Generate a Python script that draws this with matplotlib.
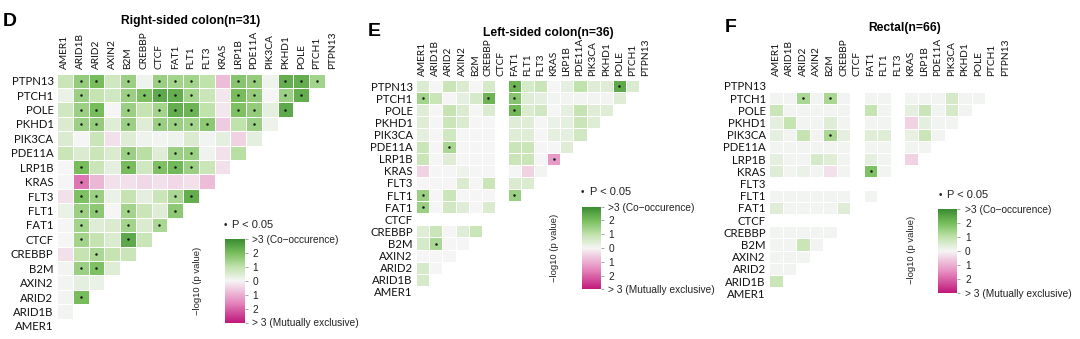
import numpy as np
import matplotlib
matplotlib.use('Agg')
import matplotlib.pyplot as plt
from matplotlib.colors import LinearSegmentedColormap, Normalize
from matplotlib.cm import ScalarMappable

W, H = 1080, 339

genes = ['AMER1', 'ARID1B', 'ARID2', 'AXIN2', 'B2M', 'CREBBP', 'CTCF', 'FAT1',
         'FLT1', 'FLT3', 'KRAS', 'LRP1B', 'PDE11A', 'PIK3CA', 'PKHD1', 'POLE',
         'PTCH1', 'PTPN13']
row_genes = genes[::-1]

titles = ['Right-sided colon(n=31)', 'Left-sided colon(n=36)', 'Rectal(n=66)']
letters = ['D', 'E', 'F']

N = None
# -log10(p), signed: + co-occurence, - mutually exclusive. rows top->bottom
right_vals = [
    [0.8, 1.6, 2.0, 0.7, 1.5, 0.1, 1.5, 1.4, 1.4, 1.0, -0.8, 1.8, 1.6, 0.1, 2.3, 2.3, 1.4],
    [0.2, 1.5, 0.9, 0.7, 1.5, 1.9, 2.4, 2.3, 1.4, 0.8, -0.2, 2.0, 1.6, 0.0, 1.5, 2.3],
    [0.7, 1.5, 2.0, 0.0, 1.5, 0.9, 1.4, 2.3, 2.2, 1.0, -0.2, 1.9, 1.6, 0.3, 2.4],
    [0.5, 1.5, 1.6, 0.4, 1.5, 0.4, 1.5, 1.5, 1.4, 1.7, -0.6, 1.0, 1.5, 0.15],
    [0.5, 0.0, 0.8, -0.3, 0.4, 0.1, 0.05, 0.1, 0.5, 0.05, 0.3, -0.5, 0.3],
    [0.8, 0.5, 0.8, 0.5, 1.5, 1.1, 0.4, 1.5, 1.5, 0.1, -0.3, 1.1],
    [0.0, 2.0, 0.8, 0.3, 2.0, 0.7, 1.9, 2.1, 1.5, 0.8, -0.3],
    [0.0, -1.8, -0.9, -0.3, -0.3, -0.4, -0.3, -0.4, -0.3, -0.8],
    [-0.3, 1.9, 1.5, 0.2, 0.9, 0.3, 0.8, 1.3, 2.3],
    [0.2, 1.5, 1.7, 0.0, 1.4, 0.8, 0.4, 1.7],
    [0.0, 1.4, 0.4, 0.5, 1.4, 0.5, 1.3],
    [0.0, 1.4, 0.9, 0.5, 2.4, 0.8],
    [-0.3, 0.9, 1.3, 0.9, 0.8],
    [0.05, 1.5, 1.9, 0.4],
    [0.05, 0.3, 0.2],
    [0.05, 2.0],
    [0.05],
    [],
]
right_sig = ['01101011100110111', '0100111110011011', '011010111001101',
             '01101011110010', '0000000000000', '000010011000', '01001011100',
             '0100000000', '011000011', '01101001', '0100101', '010010',
             '00100', '0110', '000', '01', '0', '']

left_vals = [
    [0.5, 0.0, 0.8, 0.5, 0.0, 0.6, N, 2.2, 0.6, 0.8, 0.0, 0.3, 1.0, 0.4, 0.4, 2.4, 0.5],
    [1.4, 0.8, 0.0, 0.3, 0.6, 2.2, N, 1.8, 0.4, 0.3, 0.05, 0.05, 0.05, 0.05, 0.05, 0.4],
    [0.4, 0.0, 0.9, 0.5, 0.0, 0.5, N, 2.1, 0.5, 0.7, 0.0, 0.3, 0.9, 0.4, 0.4],
    [0.4, 0.0, 0.8, 0.5, 0.0, 0.0, N, 0.4, 0.4, 0.0, 0.2, 0.3, 0.8, 0.4],
    [0.3, 0.0, 0.7, 0.0, 0.0, 0.0, N, 0.4, 0.4, 0.0, 0.3, 0.3, 0.7],
    [0.8, 0.0, 1.3, 0.0, 0.0, 0.0, N, 0.8, 0.8, 0.0, 0.0, 0.4],
    [0.8, 0.0, 0.4, 0.0, 0.0, 0.0, N, 0.8, 0.8, 0.0, -1.3],
    [-0.5, 0.0, 0.0, 0.15, 0.0, 0.0, N, 0.0, -0.5, 0.05],
    [0.0, 0.0, 0.0, 0.5, 0.0, 0.8, N, 0.5, 0.5],
    [1.5, 0.0, 0.8, 0.0, 0.0, 0.0, N, 1.5],
    [1.5, 0.0, 0.7, 0.4, 0.0, 0.5, N],
    [N, N, N, N, N, N],
    [0.4, 0.8, 0.0, 0.4, 0.8],
    [0.6, 1.3, 0.0, 0.0],
    [0.0, 0.0, 0.0],
    [0.6, 0.0],
    [0.6],
    [],
]
left_sig = ['00000001000000010', '1000010100000000', '000000010000000',
            '', '', '001000000000', '00000000001', '', '', '10000001',
            '1000000', '', '', '0100', '', '', '', '']

rectal_vals = [
    [N] * 17,
    [0.05, 0.05, 1.3, 0.05, 1.3, 0.05, N, 0.05, 0.05, N, 0.05, 0.05, 0.05, 0.6, 0.05, 0.05],
    [0.8, 0.05, 0.05, 0.05, 0.05, 0.05, N, 0.9, 0.05, N, 0.3, 0.8, 0.05, 0.6, 0.05],
    [0.3, 0.9, 0.05, 0.05, 0.4, 0.05, N, 0.05, 0.05, N, -0.5, 0.3, 0.05, 0.05],
    [0.3, 0.05, 0.9, 0.05, 1.3, 0.3, N, 0.4, 0.4, N, 0.25, 0.8, 0.05],
    [0.05, 0.05, 0.05, 0.05, 0.05, 0.05, N, 0.05, 0.05, N, 0.05, 0.05],
    [0.3, 0.05, 0.05, 0.6, 0.4, 0.05, N, 0.3, 0.05, N, -0.5],
    [0.4, 0.05, 0.2, 0.05, -0.3, 0.05, N, 1.9, 0.05, N],
    [N] * 9,
    [0.05, 0.05, 0.05, 0.05, 0.05, 0.05, N, 0.05],
    [0.4, 0.05, 0.05, 0.05, 0.05, 0.4, N],
    [N] * 6,
    [0.05, 0.05, 0.05, 0.05, 0.05],
    [0.05, 0.05, 0.8, 0.05],
    [0.05, 0.05, 0.05],
    [0.05, 0.05],
    [0.8],
    [],
]
rectal_sig = ['', '0010100000000000', '', '', '0000100000000', '', '',
              '0000000100', '', '', '', '', '', '', '', '', '', '']

cb_ticks = [3, 2, 1, 0, -1, -2, -3]
cb_labels = ['>3 (Co\u2212occurence)', '2', '1', '0', '1', '2',
             '> 3 (Mutually exclusive)']

cmap = LinearSegmentedColormap.from_list('coocc', [
    (0.0, '#c0197a'), (0.25, '#e68cc0'), (0.5, '#f5f5f5'),
    (0.667, '#c0e2ab'), (0.833, '#78be5d'), (1.0, '#3a8c32')])
norm = Normalize(-3, 3)

# pixel boxes (x0, y0, x1, y1)
layout = [
    dict(heat=(57, 73.5, 340.6, 333.2), cbar=(225, 239, 244.5, 322.5),
         sig=(225, 225), ylab=(198, 281), title=(190.5, 21), letter=(10, 21)),
    dict(heat=(416.2, 80, 652, 298), cbar=(582, 206.7, 600.5, 289.3),
         sig=(582.7, 192.3), ylab=(554.3, 248.3), title=(548, 32.7), letter=(374, 31)),
    dict(heat=(769.3, 79.9, 1012.3, 299.4), cbar=(938.3, 209.3, 957.3, 292.7),
         sig=(940, 195), ylab=(911.7, 250), title=(905, 28), letter=(731, 28)),
]


def rect(b):
    x0, y0, x1, y1 = b
    return [x0 / W, 1 - y1 / H, (x1 - x0) / W, (y1 - y0) / H]


def to_matrix(vals):
    m = np.full((18, 18), np.nan)
    for r, row in enumerate(vals):
        for c, v in enumerate(row):
            if v is not None:
                m[r, c] = v
    return m


fig = plt.figure(figsize=(W / 100, H / 100), dpi=100)
fig.patch.set_facecolor('white')

panels = [(right_vals, right_sig), (left_vals, left_sig), (rectal_vals, rectal_sig)]
for i, (vals, sig) in enumerate(panels):
    L = layout[i]
    ax = fig.add_axes(rect(L['heat']))
    m = np.ma.masked_invalid(to_matrix(vals))
    ax.pcolormesh(np.arange(19), np.arange(19), m, cmap=cmap, norm=norm,
                  edgecolors='white', linewidth=0.6)
    rr, cc = [], []
    for r, s in enumerate(sig):
        for c, ch in enumerate(s):
            if ch == '1':
                rr.append(r + 0.5)
                cc.append(c + 0.5)
    ax.scatter(cc, rr, s=3.2, color='#111111', lw=0, zorder=3)
    ax.set_xlim(0, 18)
    ax.set_ylim(18, 0)
    ax.set_xticks(np.arange(18) + 0.5)
    ax.set_xticklabels(genes, rotation=90, family='Lato', fontsize=7.3,
                       color='#111111')
    ax.set_yticks(np.arange(18) + 0.5)
    ax.set_yticklabels(row_genes, family='Lato', fontsize=8.2, color='#111111')
    ax.xaxis.tick_top()
    ax.tick_params(length=0, pad=2.5)
    ax.tick_params(axis='x', pad=3)
    for sp in ax.spines.values():
        sp.set_visible(False)

    cax = fig.add_axes(rect(L['cbar']))
    cb = fig.colorbar(ScalarMappable(norm=norm, cmap=cmap), cax=cax)
    cb.outline.set_visible(False)
    cb.set_ticks(cb_ticks)
    cb.set_ticklabels(cb_labels)
    cax.tick_params(length=2.5, width=0.6, color='#9a9a9a', pad=3,
                    labelsize=7.3)
    for t in cax.get_yticklabels():
        t.set_family('Liberation Sans')
        t.set_color('#222222')

    sx, sy = L['sig']
    fig.text(sx / W, 1 - sy / H, '\u2022', fontsize=7, ha='center', va='center',
             family='Liberation Sans', color='#222222')
    fig.text((sx + 7) / W, 1 - sy / H, 'P < 0.05', fontsize=8, ha='left',
             va='center', family='Liberation Sans', color='#222222')
    yx, yy = L['ylab']
    fig.text(yx / W, 1 - yy / H, '\u2212log10 (p value)', rotation=90,
             fontsize=6.8, ha='center', va='center', family='Liberation Sans',
             color='#222222')
    tx, ty = L['title']
    fig.text(tx / W, 1 - ty / H, titles[i], fontsize=8.7, weight='bold',
             ha='center', va='center', family='Liberation Sans')
    lx, ly = L['letter']
    fig.text(lx / W, 1 - ly / H, letters[i], fontsize=14, weight='bold',
             ha='center', va='center', family='Liberation Sans')

fig.savefig('out.png', dpi=100)
